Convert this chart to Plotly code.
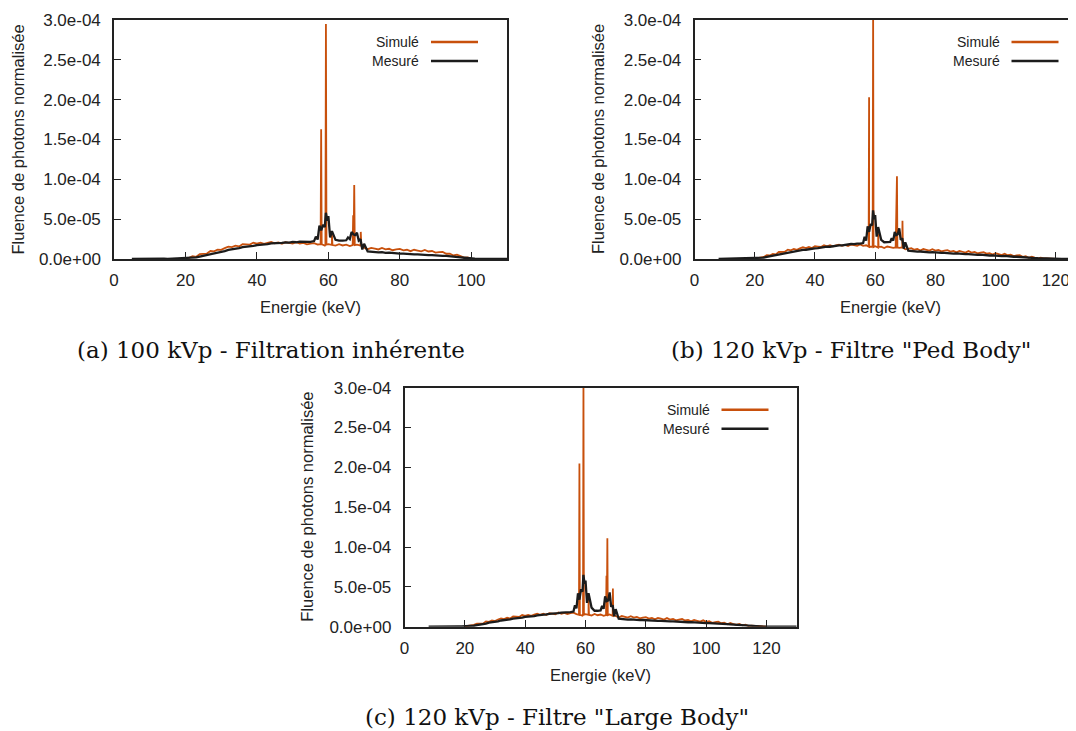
import plotly.graph_objects as go

# ---------------- data (values in units of 1e-5) ----------------
UNIT = 1e-5
TICK_VALS_Y = [0, 5e-5, 1e-4, 1.5e-4, 2e-4, 2.5e-4, 3e-4]
TICK_TEXT_Y = ["0.0e+00", "5.0e-05", "1.0e-04", "1.5e-04", "2.0e-04", "2.5e-04", "3.0e-04"]
TICK_VALS_X = [0, 20, 40, 60, 80, 100, 120]

# (a) 100 kVp - simulated continuum, 1 keV steps starting at 18 keV
SIM_A_START = 18
SIM_A = [0.00, 0.05, 0.16, 0.14, 0.34, 0.28, 0.60, 0.64, 0.68, 1.00,
         0.96, 1.18, 1.14, 1.37, 1.55, 1.49, 1.67, 1.58, 1.85, 1.83,
         1.80, 2.04, 1.92, 2.04, 1.90, 2.04, 2.13, 1.98, 2.08, 1.92,
         2.11, 2.02, 1.93, 2.12, 1.94, 2.02, 1.84, 1.94, 2.00, 1.82,
         1.86, 1.68, 1.86, 1.77, 1.68, 1.87, 1.70, 1.79, 1.62, 1.73,
         1.80, 1.59, 1.42, 1.23, 1.40, 1.30, 1.20, 1.38, 1.20, 1.28,
         1.10, 1.20, 1.26, 1.08, 1.16, 0.98, 1.16, 1.06, 0.96, 1.13,
         0.94, 1.00, 0.80, 0.87, 0.89, 0.66, 0.68, 0.44, 0.55, 0.37,
         0.18, 0.20, 0.02]
SIM_A_PEAK_E = [57.83, 57.98, 58.13, 59.17, 59.32, 59.47, 60.85, 61.0, 61.15,
                66.80, 66.95, 67.08, 67.24, 67.39, 68.92, 69.07, 69.22]
SIM_A_PEAK_V = [1.85, 16.3, 1.85, 1.80, 29.5, 1.80, 1.75, 3.0, 1.75,
                1.75, 5.5, 2.5, 9.3, 1.75, 1.70, 3.4, 1.70]

# (a) measured, 1 keV steps starting at 5 keV
MES_A_START = 5
MES_A = [0.02, 0.03, 0.01, 0.03, 0.02, 0.03, 0.01, 0.03, 0.02, 0.04,
         0.02, 0.04, 0.03, 0.05, 0.04, 0.07, 0.10, 0.16, 0.21, 0.31,
         0.40, 0.53, 0.60, 0.74, 0.80, 0.94, 1.00, 1.14, 1.20, 1.32,
         1.38, 1.50, 1.53, 1.64, 1.64, 1.74, 1.76, 1.86, 1.86, 1.95,
         1.95, 2.02, 2.02, 2.08, 2.06, 2.14, 2.10, 2.17, 2.15, 2.22,
         2.16, 2.25, 2.45, 3.60, 4.00, 5.40, 3.50, 2.40, 2.30, 2.30,
         2.35, 2.50, 3.10, 3.30, 2.50, 1.90, 0.95, 0.90, 0.92, 0.84,
         0.86, 0.78, 0.80, 0.73, 0.74, 0.68, 0.67, 0.62, 0.64, 0.58,
         0.59, 0.53, 0.54, 0.48, 0.49, 0.44, 0.45, 0.38, 0.39, 0.32,
         0.30, 0.25, 0.20, 0.16, 0.10, 0.06, 0.03, 0.02, 0.03, 0.01,
         0.02, 0.03, 0.01, 0.02, 0.03, 0.01]
MES_A_EXTRA_E = [56.5, 57.5, 58.5, 59.3, 59.7, 60.5, 65.5, 66.5, 67.5, 68.5, 69.5]
MES_A_EXTRA_V = [2.80, 4.20, 4.30, 5.80, 4.80, 2.70, 2.70, 3.40, 3.00, 2.30, 1.20]

# (b) 120 kVp Ped Body - simulated, from 20 keV
SIM_B_START = 20
SIM_B = [0.05, 0.10, 0.20, 0.26, 0.48, 0.44, 0.64, 0.58, 0.88, 0.90,
         0.90, 1.18, 1.09, 1.26, 1.16, 1.34, 1.47, 1.36, 1.50, 1.38,
         1.61, 1.56, 1.51, 1.74, 1.60, 1.72, 1.58, 1.72, 1.81, 1.66,
         1.77, 1.62, 1.82, 1.74, 1.65, 1.84, 1.66, 1.72, 1.44, 1.54,
         1.61, 1.44, 1.54, 1.37, 1.56, 1.48, 1.39, 1.58, 1.41, 1.50,
         1.22, 1.31, 1.36, 1.17, 1.25, 1.07, 1.25, 1.15, 1.05, 1.23,
         1.05, 1.13, 0.95, 1.05, 1.11, 0.93, 1.01, 0.83, 1.01, 0.91,
         0.81, 0.99, 0.81, 0.89, 0.71, 0.81, 0.86, 0.67, 0.74, 0.55,
         0.72, 0.61, 0.50, 0.67, 0.48, 0.55, 0.36, 0.44, 0.48, 0.28,
         0.34, 0.16, 0.30, 0.18, 0.09, 0.16, 0.07, 0.09, 0.04, 0.02,
         0.01]
SIM_B_PEAK_E = [57.83, 57.98, 58.13, 59.17, 59.32, 59.47, 60.85, 61.0, 61.15,
                66.80, 66.95, 67.08, 67.24, 67.39, 68.92, 69.07, 69.22]
SIM_B_PEAK_V = [1.55, 20.3, 1.55, 1.50, 31.0, 1.50, 1.50, 3.2, 1.50,
                1.45, 6.3, 2.5, 10.4, 1.45, 1.45, 4.8, 1.45]

# (b) measured, from 8 keV
MES_B_START = 8
MES_B = [0.02, 0.03, 0.01, 0.03, 0.02, 0.03, 0.02, 0.04, 0.02, 0.04,
         0.03, 0.04, 0.05, 0.08, 0.13, 0.17, 0.27, 0.34, 0.47, 0.53,
         0.64, 0.68, 0.78, 0.82, 0.92, 0.94, 1.04, 1.06, 1.14, 1.16,
         1.24, 1.26, 1.34, 1.36, 1.44, 1.45, 1.54, 1.54, 1.62, 1.64,
         1.72, 1.72, 1.80, 1.80, 1.88, 1.86, 1.94, 1.92, 2.00, 2.30,
         3.40, 4.20, 5.50, 4.00, 2.40, 2.10, 2.10, 2.15, 2.30, 3.00,
         3.85, 2.60, 2.10, 1.05, 0.98, 1.00, 0.93, 0.94, 0.88, 0.90,
         0.84, 0.86, 0.80, 0.82, 0.76, 0.78, 0.72, 0.74, 0.68, 0.70,
         0.64, 0.66, 0.60, 0.62, 0.56, 0.58, 0.52, 0.54, 0.48, 0.50,
         0.44, 0.46, 0.40, 0.42, 0.36, 0.38, 0.32, 0.33, 0.28, 0.28,
         0.24, 0.23, 0.20, 0.18, 0.15, 0.12, 0.10, 0.08, 0.06, 0.04,
         0.03, 0.02, 0.02, 0.03, 0.01, 0.02, 0.03, 0.01, 0.02, 0.02]
MES_B_EXTRA_E = [56.5, 57.5, 58.5, 59.3, 59.7, 60.5, 65.5, 66.5, 67.5, 68.5, 69.5]
MES_B_EXTRA_V = [2.80, 4.10, 4.40, 6.10, 5.00, 2.80, 2.60, 3.40, 3.10, 2.40, 1.30]

# (c) 120 kVp Large Body - simulated, from 20 keV
SIM_C_START = 20
SIM_C = [0.04, 0.08, 0.14, 0.22, 0.38, 0.38, 0.38, 0.67, 0.60, 0.78,
         0.70, 0.90, 1.05, 0.96, 1.12, 1.02, 1.28, 1.25, 1.22, 1.47,
         1.35, 1.49, 1.37, 1.52, 1.63, 1.50, 1.62, 1.48, 1.70, 1.64,
         1.57, 1.78, 1.63, 1.74, 1.58, 1.70, 1.77, 1.58, 1.56, 1.39,
         1.58, 1.49, 1.41, 1.60, 1.44, 1.53, 1.36, 1.47, 1.54, 1.37,
         1.34, 1.16, 1.34, 1.24, 1.14, 1.32, 1.14, 1.22, 1.04, 1.14,
         1.20, 1.02, 1.10, 0.92, 1.10, 1.00, 0.90, 1.08, 0.90, 0.98,
         0.80, 0.90, 0.96, 0.78, 0.86, 0.68, 0.85, 0.74, 0.63, 0.80,
         0.61, 0.68, 0.49, 0.58, 0.63, 0.44, 0.50, 0.30, 0.46, 0.34,
         0.22, 0.34, 0.18, 0.24, 0.08, 0.14, 0.12, 0.05, 0.04, 0.02,
         0.01]
SIM_C_PEAK_E = [57.83, 57.98, 58.13, 59.17, 59.32, 59.47, 60.85, 61.0, 61.15,
                66.80, 66.95, 67.08, 67.24, 67.39, 68.92, 69.07, 69.22]
SIM_C_PEAK_V = [1.50, 20.5, 1.50, 1.50, 31.0, 1.50, 1.50, 3.4, 1.50,
                1.45, 6.4, 2.5, 11.1, 1.45, 1.45, 4.8, 1.45]

# (c) measured, from 8 keV
MES_C_START = 8
MES_C = [0.02, 0.03, 0.01, 0.03, 0.02, 0.03, 0.02, 0.03, 0.02, 0.04,
         0.03, 0.03, 0.04, 0.06, 0.10, 0.12, 0.20, 0.24, 0.34, 0.38,
         0.50, 0.53, 0.64, 0.68, 0.78, 0.80, 0.90, 0.92, 1.02, 1.04,
         1.12, 1.14, 1.22, 1.24, 1.33, 1.34, 1.43, 1.44, 1.52, 1.54,
         1.62, 1.62, 1.70, 1.70, 1.78, 1.78, 1.86, 1.84, 1.90, 2.30,
         3.40, 4.40, 5.80, 4.20, 2.40, 2.00, 2.00, 2.05, 2.25, 3.20,
         4.30, 2.70, 2.20, 1.00, 0.94, 0.96, 0.90, 0.92, 0.86, 0.88,
         0.83, 0.84, 0.80, 0.80, 0.76, 0.77, 0.72, 0.73, 0.69, 0.70,
         0.66, 0.67, 0.63, 0.64, 0.60, 0.60, 0.56, 0.57, 0.53, 0.54,
         0.50, 0.50, 0.46, 0.46, 0.42, 0.42, 0.38, 0.37, 0.34, 0.32,
         0.29, 0.26, 0.23, 0.20, 0.16, 0.13, 0.10, 0.08, 0.06, 0.04,
         0.03, 0.02, 0.02, 0.03, 0.01, 0.02, 0.03, 0.01, 0.02, 0.03,
         0.01, 0.02, 0.02]
MES_C_EXTRA_E = [56.5, 57.5, 58.5, 59.3, 59.7, 60.5, 65.5, 66.5, 67.5, 68.5, 69.5]
MES_C_EXTRA_V = [2.70, 4.20, 4.70, 6.50, 5.40, 3.00, 2.60, 3.80, 3.30, 2.50, 1.30]

# ---------------- styling ----------------
OFF = 8                      # page body margin
W, H = 1076 - OFF, 731 - OFF
ORANGE = "#c8500c"
BLACK = "#1c1c1c"
SANS = "Liberation Sans, Arial, sans-serif"
SERIF = "DejaVu Serif, serif"


def px(x):
    return (x - OFF) / W


def py(y):
    return 1 - (y - OFF) / H


def series(start, vals, extra_e, extra_v):
    pts = [(start + i, v) for i, v in enumerate(vals)] + list(zip(extra_e, extra_v))
    pts.sort()
    return [p[0] for p in pts], [p[1] * UNIT for p in pts]


panels = [
    dict(sim=(SIM_A_START, SIM_A, SIM_A_PEAK_E, SIM_A_PEAK_V),
         mes=(MES_A_START, MES_A, MES_A_EXTRA_E, MES_A_EXTRA_V),
         xd=(114, 507), yd=(20, 259), xr=[0, 110], right=True),
    dict(sim=(SIM_B_START, SIM_B, SIM_B_PEAK_E, SIM_B_PEAK_V),
         mes=(MES_B_START, MES_B, MES_B_EXTRA_E, MES_B_EXTRA_V),
         xd=(694.5, 1076), yd=(20, 259), xr=[0, 126.7], right=False),
    dict(sim=(SIM_C_START, SIM_C, SIM_C_PEAK_E, SIM_C_PEAK_V),
         mes=(MES_C_START, MES_C, MES_C_EXTRA_E, MES_C_EXTRA_V),
         xd=(404.5, 796.7), yd=(387.7, 626.7), xr=[0, 130], right=True),
]

fig = go.Figure()
layout = dict(width=W, height=H, autosize=False, template="none",
              margin=dict(l=0, r=0, t=0, b=0, pad=0),
              paper_bgcolor="white", plot_bgcolor="white", showlegend=False)
annotations = []
shapes = []

for i, p in enumerate(panels, start=1):
    sfx = "" if i == 1 else str(i)
    xs, ys = series(*p["sim"])
    xm, ym = series(*p["mes"])
    fig.add_trace(go.Scatter(x=xs, y=ys, mode="lines", xaxis="x" + sfx, yaxis="y" + sfx,
                             line=dict(color=ORANGE, width=1.8), name="Simulé"))
    fig.add_trace(go.Scatter(x=xm, y=ym, mode="lines", xaxis="x" + sfx, yaxis="y" + sfx,
                             line=dict(color=BLACK, width=2.3), name="Mesuré"))
    x0, x1 = p["xd"]
    yt, yb = p["yd"]
    layout["xaxis" + sfx] = dict(
        domain=[px(x0), px(x1)], anchor="y" + sfx, range=p["xr"], tickvals=TICK_VALS_X,
        ticks="inside", ticklen=7, tickwidth=1.3, tickcolor="#222",
        showline=True, linecolor="#222", linewidth=1.5, mirror=True,
        showgrid=False, zeroline=False, ticklabelstandoff=5, automargin=False,
        tickfont=dict(family=SANS, size=17, color="#222"))
    layout["yaxis" + sfx] = dict(
        domain=[py(yb), py(yt)], anchor="x" + sfx, range=[0, 3e-4],
        tickvals=TICK_VALS_Y, ticktext=TICK_TEXT_Y,
        ticks="inside", ticklen=7, tickwidth=1.3, tickcolor="#222",
        showline=True, linecolor="#222", linewidth=1.5, mirror=p["right"],
        showgrid=False, zeroline=False, ticklabelstandoff=8, automargin=False,
        tickfont=dict(family=SANS, size=17, color="#222"))

    # axis titles
    annotations.append(dict(text="Energie (keV)", x=px(x0 + 196), y=py(yb + 48),
                            xref="paper", yref="paper", showarrow=False,
                            xanchor="center", yanchor="middle",
                            font=dict(family=SANS, size=16.5, color="#222")))
    annotations.append(dict(text="Fluence de photons normalisée", x=px(x0 - 97), y=py((yt + yb) / 2),
                            xref="paper", yref="paper", showarrow=False, textangle=-90,
                            xanchor="center", yanchor="middle",
                            font=dict(family=SANS, size=16.5, color="#222")))
    # legend (text to the left of the line sample)
    lx_text = x0 + 307
    for j, (lab, col) in enumerate([("Simulé", ORANGE), ("Mesuré", BLACK)]):
        ly = yt + 22 + 19 * j
        annotations.append(dict(text=lab, x=px(lx_text), y=py(ly), xref="paper", yref="paper",
                                showarrow=False, xanchor="right", yanchor="middle",
                                font=dict(family=SANS, size=14, color="#222")))
        shapes.append(dict(type="line", xref="paper", yref="paper",
                           x0=px(lx_text + 10), x1=px(lx_text + 57), y0=py(ly), y1=py(ly),
                           line=dict(color=col, width=2.6)))

captions = [("(a) 100 kVp - Filtration inhérente", 270.5, 350),
            ("(b) 120 kVp - Filtre \"Ped Body\"", 851, 350),
            ("(c) 120 kVp - Filtre \"Large Body\"", 556.5, 717)]
for txt, cx, cy in captions:
    annotations.append(dict(text=txt, x=px(cx), y=py(cy), xref="paper", yref="paper",
                            showarrow=False, xanchor="center", yanchor="middle",
                            font=dict(family=SERIF, size=23, color="#111")))

layout["annotations"] = annotations
layout["shapes"] = shapes
fig.update_layout(**layout)
fig.write_html("out.html")
